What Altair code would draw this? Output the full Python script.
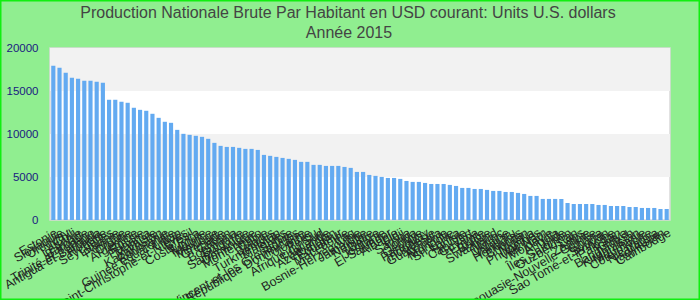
import altair as alt
import pandas as pd

pays = [
    "Estonie", "Slovaquie", "Uruguay", "Chili", "Lettonie", "Barbade",
    "Trinité-et-Tobago", "Antigua-et-Barbuda", "Hongrie", "Seychelles",
    "Lituanie", "Pologne", "Croatie", "Argentine", "Russie", "Panama",
    "Malaisie", "Kazakhstan", "Roumanie", "Guinée équatoriale", "Liban",
    "Saint-Christophe-et-Niévès", "Brésil", "Costa Rica", "Turquie", "Maurice",
    "Mexique", "Grenade", "Gabon", "Botswana", "Bulgarie", "Sainte-Lucie",
    "Dominique", "Monténégro", "Chine", "Bélarus", "Turkménistan", "Maldives",
    "Serbie", "Saint-Vincent-et-les Grenadines", "République Dominicaine",
    "Colombie", "Pérou", "Afrique du Sud", "Thaïlande", "Azerbaïdjan",
    "Équateur", "Macédoine", "Iraq", "Bosnie-Herzégovine", "Jamaïque",
    "Namibie", "Belize", "Jordanie", "El Salvador", "Albanie", "Fidji",
    "Samoa", "Tonga", "Géorgie", "Paraguay", "Indonésie", "Guatemala",
    "Arménie", "Mongolie", "Sri Lanka", "Tunisie", "Cap-Vert", "Guyana",
    "Égypte", "Bolivie", "Swaziland", "Maroc", "Ukraine", "Vanuatu",
    "Honduras", "Bhoutan", "Nigéria", "Philippines", "Viet Nam", "Moldavie",
    "Angola", "Inde", "Îles Salomon", "Ouzbékistan", "Laos", "Zambie",
    "Papouasie-Nouvelle-Guinée", "Ghana", "Soudan", "Sao Tomé-et-Principe",
    "Pakistan", "Kenya", "Bangladesh", "Kirghizistan", "Mauritanie",
    "Côte d'Ivoire", "Nicaragua", "Tadjikistan", "Cambodge",
]

valeurs = [
    17940, 17710, 17120, 16540, 16430, 16190, 16190, 16080, 15960, 13980,
    13980, 13750, 13630, 13050, 12810, 12700, 12350, 11880, 11420, 11300,
    10480, 10020, 9900, 9790, 9670, 9440, 8970, 8620, 8500, 8500,
    8390, 8270, 8270, 8150, 7570, 7460, 7340, 7220, 7110, 6990,
    6760, 6760, 6410, 6410, 6290, 6290, 6290, 6170, 6060, 5590,
    5590, 5240, 5130, 5010, 4890, 4890, 4780, 4540, 4430, 4430,
    4310, 4190, 4190, 4190, 4080, 3960, 3730, 3730, 3610, 3610,
    3500, 3380, 3380, 3260, 3260, 3150, 3030, 2800, 2800, 2450,
    2450, 2450, 2450, 1980, 1860, 1860, 1860, 1860, 1750, 1750,
    1630, 1630, 1630, 1510, 1510, 1400, 1400, 1400, 1280, 1280,
]

bandes_debut = [15000, 5000]
bandes_fin = [20000, 10000]

titre_ligne1 = "Production Nationale Brute Par Habitant en USD courant: Units U.S. dollars"
titre_ligne2 = "Année 2015"

df = pd.DataFrame({"pays": pays, "valeur": valeurs})
bands = pd.DataFrame({"debut": bandes_debut, "fin": bandes_fin})

FONT = "Liberation Sans"

yscale = alt.Scale(domain=[0, 20000], nice=False)

band_layer = alt.Chart(bands).mark_rect(color="#f2f2f2").encode(
    y=alt.Y("debut:Q", scale=yscale),
    y2="fin:Q",
)

bars = alt.Chart(df).mark_bar(color="#63aaf1").encode(
    x=alt.X(
        "pays:N",
        sort=pays,
        title=None,
        scale=alt.Scale(paddingInner=0.33, paddingOuter=0.2),
        axis=alt.Axis(
            labelAngle=-30,
            labelOverlap=False,
            labelFont=FONT,
            labelFontSize=12.5,
            labelColor="#222222",
            ticks=False,
            domain=False,
            labelPadding=6,
            labelLimit=0,
        ),
    ),
    y=alt.Y(
        "valeur:Q",
        scale=yscale,
        title=None,
        axis=alt.Axis(
            values=[0, 5000, 10000, 15000, 20000],
            labelFont=FONT,
            labelFontSize=11.5,
            labelColor="#1a1a80",
            ticks=False,
            domain=False,
            grid=False,
            labelPadding=12,
            format="d",
        ),
    ),
)

one = pd.DataFrame({"a": [0]})

title1 = alt.Chart(one).mark_text(
    font=FONT, fontSize=16, color="#444444", baseline="middle", align="center", clip=False
).encode(
    x=alt.value(298),
    y=alt.value(-35),
    text=alt.value(titre_ligne1),
)

title2 = alt.Chart(one).mark_text(
    font=FONT, fontSize=16, color="#444444", baseline="middle", align="center", clip=False
).encode(
    x=alt.value(299),
    y=alt.value(-15),
    text=alt.value(titre_ligne2),
)

border = alt.Chart(one).mark_rect(
    fill=None, stroke="#11ee11", strokeWidth=1.5, clip=False
).encode(
    x=alt.value(-49.25),
    x2=alt.value(649.25),
    y=alt.value(-47.25),
    y2=alt.value(251.25),
)

chart = alt.layer(band_layer, bars, title1, title2, border).properties(
    width=620,
    height=172,
    background="#90ee90",
    padding={"left": 50, "top": 48, "right": 30, "bottom": 80},
    autosize=alt.AutoSizeParams(type="none"),
).configure_view(
    fill="white", stroke="#d9d9d9", strokeWidth=1.5
)

chart.save("out.html", embed_options={"renderer": "svg", "actions": False})
